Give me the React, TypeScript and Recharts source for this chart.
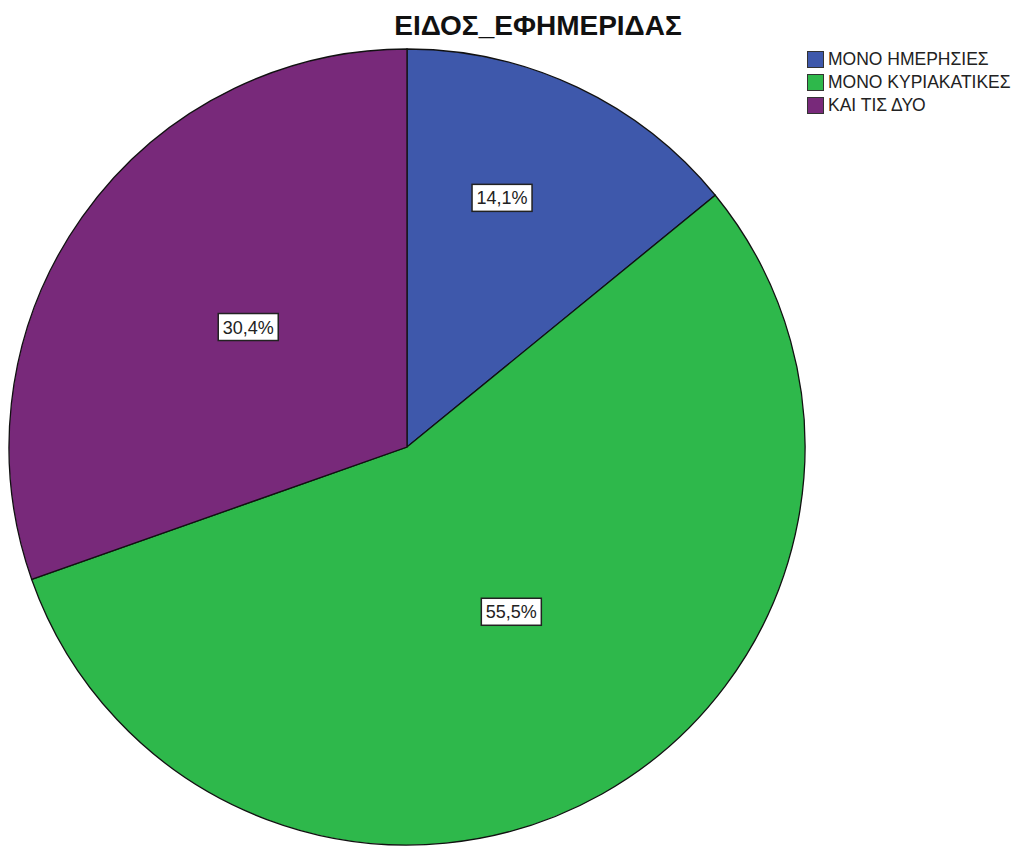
import { Pie, PieChart, Cell, Legend } from "recharts";

const categories = ["ΜΟΝΟ ΗΜΕΡΗΣΙΕΣ", "ΜΟΝΟ ΚΥΡΙΑΚΑΤΙΚΕΣ", "ΚΑΙ ΤΙΣ ΔΥΟ"];
const percents = [14.1, 55.5, 30.4];
const percentLabels = ["14,1%", "55,5%", "30,4%"];
const colors = ["#3e58ab", "#2eb84b", "#78297a"];

const chartTitle = "ΕΙΔΟΣ_ΕΦΗΜΕΡΙΔΑΣ";

const data = categories.map((name, i) => ({ name, value: percents[i], label: percentLabels[i] }));

const RAD = Math.PI / 180;
// label placement tweaks per slice (share of radius, angle nudge in degrees)
const labelDepth = [0.67, 0.49, 0.5];
const labelNudge = [4.5, 3, -1.8];

const font = "Liberation Sans, Arial, sans-serif";

function SliceLabel(props: any) {
  const { cx, cy, midAngle, outerRadius, index } = props;
  const r = outerRadius * labelDepth[index];
  const a = (midAngle + labelNudge[index]) * RAD;
  const x = cx + r * Math.cos(-a);
  const y = cy + r * Math.sin(-a);
  const text = percentLabels[index];
  const w = 60;
  const h = 27;
  return (
    <g>
      <rect x={x - w / 2} y={y - h / 2} width={w} height={h} fill="#fff" stroke="#222" strokeWidth={1.5} />
      <text x={x} y={y + 6.5} textAnchor="middle" fontSize={18} fill="#222" fontFamily={font}>
        {text}
      </text>
    </g>
  );
}

function LegendBox() {
  return (
    <div style={{ fontFamily: font, fontSize: 17.5, color: "#222" }}>
      {categories.map((c, i) => (
        <div key={c} style={{ display: "flex", alignItems: "center", height: 23, whiteSpace: "nowrap" }}>
          <span
            style={{
              display: "inline-block",
              width: 15,
              height: 15,
              background: colors[i],
              border: "1.5px solid #333",
              marginRight: 4,
            }}
          />
          {c}
        </div>
      ))}
    </div>
  );
}

export default function App() {
  return (
    <div style={{ position: "absolute", left: 0, top: 0, width: 1018, height: 846, background: "#fff", overflow: "hidden" }}>
      <div
        style={{
          position: "absolute",
          left: 0,
          width: 1076,
          top: 10,
          textAlign: "center",
          fontFamily: font,
          fontWeight: "bold",
          fontSize: 28,
          color: "#111",
          zIndex: 2,
        }}
      >
        {chartTitle}
      </div>
      <PieChart
        width={1018}
        height={846}
        margin={{ top: 0, right: 0, bottom: 0, left: 0 }}
        style={{ position: "absolute", left: 0, top: 0 }}
      >
        <Pie
          data={data}
          dataKey="value"
          nameKey="name"
          cx={407}
          cy={447}
          outerRadius={398}
          startAngle={90}
          endAngle={-270}
          stroke="#111"
          strokeWidth={1.3}
          label={SliceLabel}
          labelLine={false}
          isAnimationActive={false}
        >
          {data.map((d, i) => (
            <Cell key={d.name} fill={colors[i]} />
          ))}
        </Pie>
        <Legend
          layout="vertical"
          verticalAlign="top"
          align="right"
          content={() => <LegendBox />}
          wrapperStyle={{ left: 807, top: 48, width: 211 }}
        />
      </PieChart>
    </div>
  );
}
